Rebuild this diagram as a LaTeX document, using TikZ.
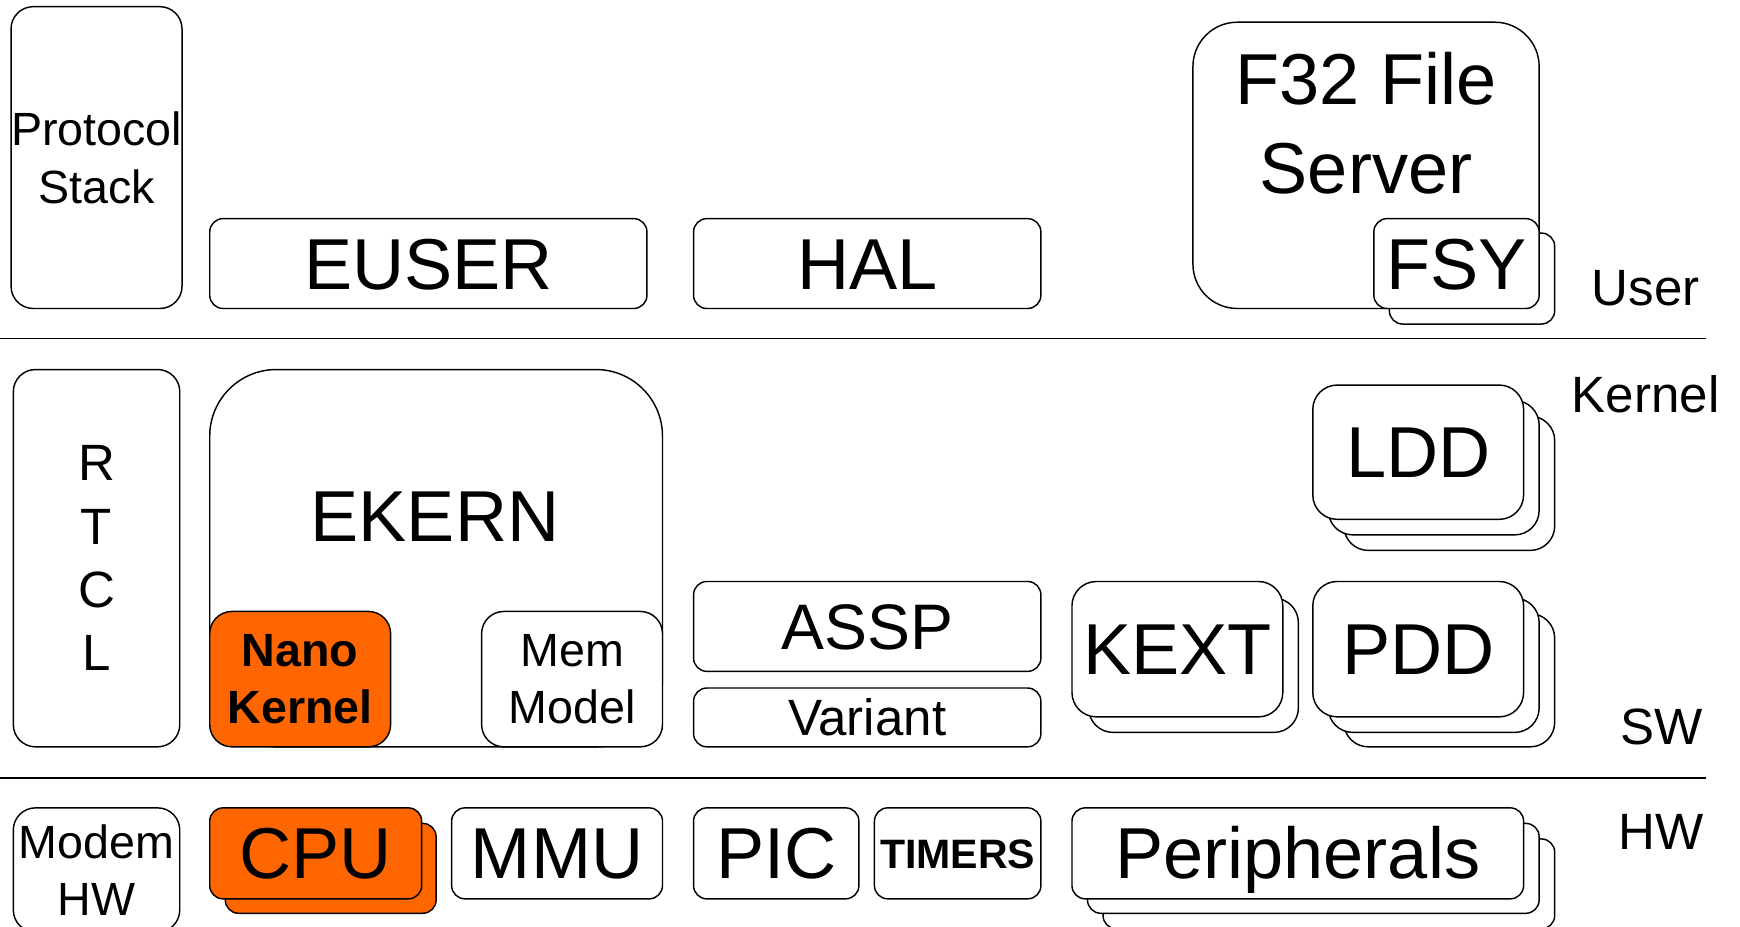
\documentclass[tikz,border=0pt]{standalone}
\usepackage{fontspec}
\setmainfont{Liberation Sans}
\usetikzlibrary{positioning}

\begin{document}
\begin{tikzpicture}[x=1pt, y=-1pt,
    blk/.style={draw, rectangle, fill=white, line width=1.3pt, rounded corners=12pt,
                inner sep=0pt, align=center},
    bigtxt/.style={font=\fontsize{65}{80}\selectfont, text height=46pt, text depth=0pt},
    midtxt/.style={font=\fontsize{42}{52}\selectfont},
    lay/.style={font=\fontsize{46}{56}\selectfont, inner sep=0pt},
    sep/.style={line width=1.3pt},
]

% Color definitions
\definecolor{hotC}{RGB}{255,102,0}

\useasboundingbox (0,0) rectangle (1568,835);
\clip (0,0) rectangle (1568,835);

% Layer separators
\coordinate (userL) at (0,305);
\coordinate (userR) at (1537,305);
\coordinate (hwL) at (0,701);
\coordinate (hwR) at (1537,701);
\draw[sep] (userL) -- (userR);
\draw[sep] (hwL) -- (hwR);

% User side
\node[blk, midtxt, rounded corners=20pt, minimum width=150, minimum height=272] (proto) at (87,142)
  {Protocol\\Stack};
\node[blk, bigtxt, minimum width=394, minimum height=81] (euser) at (386,237.5) {EUSER};
\node[blk, bigtxt, minimum width=313, minimum height=81] (hal) at (781.5,237.5) {HAL};
\node[blk, rounded corners=40pt, minimum width=312, minimum height=258] (f32) at (1231,149) {};
\node[align=center, font=\fontsize{65}{80}\selectfont, inner sep=0pt] (f32lbl) at (1231,111)
  {F32 File\\Server};
\node[blk, minimum width=149, minimum height=82] (fsyB) at (1326.5,251) {};
\node[blk, bigtxt, minimum width=149, minimum height=81] (fsy) at (1312.5,237.5) {FSY};

% Kernel side
\node[blk, font=\fontsize{46}{57}\selectfont, rounded corners=20pt, minimum width=150, minimum height=340]
  (rtcl) at (87,503) {R\\T\\C\\L};
\node[blk, rounded corners=60pt, minimum width=408, minimum height=340] (ekern) at (393,503) {};
\node[bigtxt, inner sep=0pt] (ekernlbl) at (392,465) {EKERN};
\node[blk, midtxt, fill=hotC, rounded corners=20pt, minimum width=163, minimum height=122,
      font=\bfseries\fontsize{42}{52}\selectfont] (nano) at (270.5,612) {Nano\\Kernel};
\node[blk, midtxt, rounded corners=20pt, minimum width=163, minimum height=122] (mem) at (515.5,612)
  {Mem\\Model};
\node[blk, font=\fontsize{58}{70}\selectfont, text height=41.5pt, text depth=0pt,
      minimum width=313, minimum height=81] (assp) at (781.5,564.5) {ASSP};
\node[blk, font=\fontsize{46}{56}\selectfont, text height=33pt, text depth=0pt,
      minimum width=313, minimum height=53] (variant) at (781.5,646.5) {Variant};

\node[blk, rounded corners=22pt, minimum width=189, minimum height=121] (kextB) at (1075.5,599.5) {};
\node[blk, bigtxt, rounded corners=22pt, minimum width=190, minimum height=122] (kext) at (1061,585) {KEXT};

\node[blk, rounded corners=22pt, minimum width=190, minimum height=120] (pddC) at (1306,613) {};
\node[blk, rounded corners=22pt, minimum width=190, minimum height=121] (pddB) at (1292,599.5) {};
\node[blk, bigtxt, rounded corners=22pt, minimum width=190, minimum height=122] (pdd) at (1278,585) {PDD};

\node[blk, rounded corners=22pt, minimum width=190, minimum height=121] (lddC) at (1306,435.5) {};
\node[blk, rounded corners=22pt, minimum width=190, minimum height=121] (lddB) at (1292,421.5) {};
\node[blk, bigtxt, rounded corners=22pt, minimum width=190, minimum height=121] (ldd) at (1278,407.5) {LDD};

% Hardware
\node[blk, midtxt, rounded corners=20pt, minimum width=150, minimum height=112] (modem) at (87,784)
  {Modem\\HW};
\node[blk, fill=hotC, minimum width=190, minimum height=81] (cpuB) at (298,782.5) {};
\node[blk, bigtxt, fill=hotC, minimum width=191, minimum height=82] (cpu) at (284.5,769) {CPU};
\node[blk, bigtxt, minimum width=190, minimum height=82] (mmu) at (502,769) {MMU};
\node[blk, bigtxt, minimum width=149, minimum height=82] (pic) at (699.5,769) {PIC};
\node[blk, font=\bfseries\fontsize{37}{44}\selectfont, text height=26.5pt, text depth=0pt,
      minimum width=150, minimum height=82] (timers) at (863,769) {TIMERS};
\node[blk, minimum width=407, minimum height=81] (periphC) at (1197.5,796.5) {};
\node[blk, minimum width=407, minimum height=81] (periphB) at (1183.5,782.5) {};
\node[blk, bigtxt, minimum width=407, minimum height=82] (periph) at (1169.5,769) {Peripherals};

% Layer labels (right side)
\node[lay] (userlbl) at (1483,260) {User};
\node[lay] (kernlbl) at (1483,355) {Kernel};
\node[lay] (swlbl) at (1497,655) {SW};
\node[lay] (hwlbl) at (1497,750) {HW};

\end{tikzpicture}
\end{document}
